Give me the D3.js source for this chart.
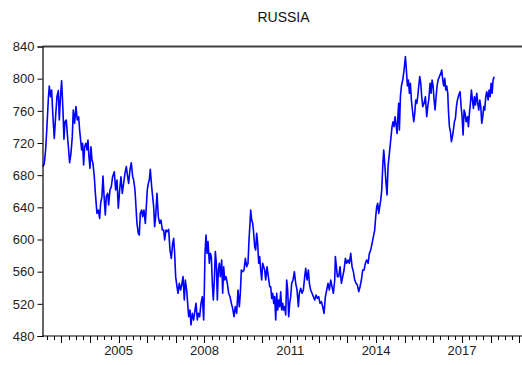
<!DOCTYPE html>
<html>
<head>
<meta charset="utf-8">
<script src="https://cdn.jsdelivr.net/npm/d3@7"></script>
<style>
  html, body { margin: 0; padding: 0; background: #fff; }
  svg { display: block; font-family: Arial, "Liberation Sans", sans-serif; }
</style>
</head>
<body>
<svg id="chart" width="522" height="365"></svg>
<script>
// Series title
const title = "RUSSIA";

// Observation dates as decimal years
const years = [
  2002.356, 2002.402, 2002.449, 2002.495, 2002.542, 2002.577, 2002.624, 2002.659, 2002.705, 2002.752,
  2002.798, 2002.845, 2002.892, 2002.927, 2002.962, 2003.008, 2003.055, 2003.090, 2003.125, 2003.171,
  2003.206, 2003.253, 2003.288, 2003.334, 2003.381, 2003.416, 2003.463, 2003.509, 2003.556, 2003.603,
  2003.638, 2003.672, 2003.707, 2003.742, 2003.777, 2003.812, 2003.859, 2003.894, 2003.929, 2003.964,
  2003.999, 2004.034, 2004.069, 2004.104, 2004.150, 2004.197, 2004.244, 2004.290, 2004.337, 2004.372,
  2004.418, 2004.453, 2004.500, 2004.535, 2004.570, 2004.617, 2004.652, 2004.698, 2004.745, 2004.791,
  2004.850, 2004.896, 2004.943, 2004.990, 2005.036, 2005.083, 2005.129, 2005.176, 2005.223, 2005.269,
  2005.316, 2005.351, 2005.397, 2005.444, 2005.491, 2005.526, 2005.572, 2005.607, 2005.642, 2005.689,
  2005.724, 2005.759, 2005.805, 2005.840, 2005.887, 2005.934, 2005.969, 2006.003, 2006.038, 2006.073,
  2006.108, 2006.155, 2006.190, 2006.225, 2006.260, 2006.295, 2006.341, 2006.388, 2006.435, 2006.481,
  2006.528, 2006.575, 2006.610, 2006.656, 2006.703, 2006.749, 2006.796, 2006.843, 2006.889, 2006.924,
  2006.959, 2006.994, 2007.041, 2007.076, 2007.122, 2007.169, 2007.216, 2007.251, 2007.297, 2007.332,
  2007.379, 2007.414, 2007.449, 2007.495, 2007.530, 2007.577, 2007.624, 2007.670, 2007.705, 2007.752,
  2007.787, 2007.833, 2007.880, 2007.927, 2007.973, 2007.996, 2008.020, 2008.055, 2008.090, 2008.125,
  2008.171, 2008.206, 2008.241, 2008.276, 2008.311, 2008.346, 2008.381, 2008.416, 2008.451, 2008.486,
  2008.521, 2008.556, 2008.603, 2008.638, 2008.673, 2008.708, 2008.754, 2008.801, 2008.847, 2008.894,
  2008.941, 2008.987, 2009.034, 2009.080, 2009.127, 2009.174, 2009.220, 2009.255, 2009.290, 2009.337,
  2009.384, 2009.430, 2009.477, 2009.523, 2009.558, 2009.593, 2009.617, 2009.652, 2009.687, 2009.722,
  2009.756, 2009.791, 2009.826, 2009.861, 2009.896, 2009.931, 2009.966, 2010.001, 2010.036, 2010.071,
  2010.106, 2010.141, 2010.188, 2010.234, 2010.281, 2010.316, 2010.351, 2010.386, 2010.421, 2010.456,
  2010.491, 2010.526, 2010.561, 2010.596, 2010.631, 2010.666, 2010.700, 2010.735, 2010.770, 2010.805,
  2010.840, 2010.875, 2010.910, 2010.945, 2010.980, 2011.015, 2011.050, 2011.097, 2011.143, 2011.190,
  2011.237, 2011.283, 2011.318, 2011.365, 2011.411, 2011.458, 2011.505, 2011.540, 2011.586, 2011.633,
  2011.668, 2011.714, 2011.761, 2011.808, 2011.854, 2011.901, 2011.948, 2011.994, 2012.041, 2012.087,
  2012.134, 2012.181, 2012.227, 2012.274, 2012.320, 2012.367, 2012.414, 2012.460, 2012.507, 2012.554,
  2012.577, 2012.612, 2012.647, 2012.693, 2012.740, 2012.787, 2012.833, 2012.880, 2012.927, 2012.973,
  2013.020, 2013.066, 2013.113, 2013.160, 2013.206, 2013.253, 2013.300, 2013.346, 2013.393, 2013.439,
  2013.486, 2013.533, 2013.579, 2013.626, 2013.672, 2013.719, 2013.766, 2013.812, 2013.859, 2013.906,
  2013.952, 2013.987, 2014.022, 2014.057, 2014.092, 2014.127, 2014.162, 2014.197, 2014.232, 2014.267,
  2014.302, 2014.348, 2014.383, 2014.418, 2014.453, 2014.488, 2014.523, 2014.558, 2014.593, 2014.628,
  2014.663, 2014.698, 2014.733, 2014.768, 2014.791, 2014.815, 2014.850, 2014.885, 2014.931, 2014.978,
  2015.024, 2015.059, 2015.094, 2015.129, 2015.164, 2015.199, 2015.234, 2015.269, 2015.316, 2015.351,
  2015.386, 2015.421, 2015.456, 2015.491, 2015.526, 2015.561, 2015.595, 2015.630, 2015.677, 2015.724,
  2015.770, 2015.805, 2015.840, 2015.887, 2015.922, 2015.957, 2015.992, 2016.027, 2016.062, 2016.097,
  2016.132, 2016.167, 2016.213, 2016.260, 2016.295, 2016.330, 2016.365, 2016.400, 2016.435, 2016.470,
  2016.505, 2016.528, 2016.563, 2016.598, 2016.633, 2016.668, 2016.703, 2016.738, 2016.773, 2016.808,
  2016.843, 2016.889, 2016.936, 2016.971, 2017.006, 2017.041, 2017.076, 2017.111, 2017.146, 2017.192,
  2017.227, 2017.262, 2017.297, 2017.332, 2017.367, 2017.402, 2017.437, 2017.472, 2017.519, 2017.554,
  2017.589, 2017.624, 2017.659, 2017.693, 2017.728, 2017.763, 2017.798, 2017.833, 2017.868, 2017.915,
  2017.950, 2017.985, 2018.020, 2018.055, 2018.090, 2018.124
];

// Index level at each date
const values = [
  690.6, 694.7, 711.3, 740.3, 773.5, 790.9, 777.6, 785.9, 752.7, 725.8,
  752.7, 777.6, 785.1, 748.6, 773.5, 797.5, 761.0, 724.6, 746.5, 748.6,
  732.0, 711.3, 695.5, 707.1, 727.9, 761.0, 744.5, 765.2, 748.6, 752.7,
  736.2, 723.7, 711.3, 719.6, 692.6, 715.4, 719.6, 711.3, 723.7, 703.0,
  688.5, 715.4, 698.9, 694.7, 678.1, 653.3, 632.5, 636.7, 626.3, 645.0,
  653.3, 679.0, 649.1, 630.5, 653.3, 657.4, 642.9, 661.6, 665.7, 678.1,
  684.3, 661.6, 674.0, 638.8, 661.6, 678.1, 657.4, 669.8, 682.3, 690.6,
  678.1, 669.8, 686.4, 695.5, 678.1, 674.0, 661.6, 640.8, 620.1, 607.7,
  605.6, 632.5, 636.7, 628.4, 636.7, 620.1, 640.8, 661.6, 669.8, 674.0,
  687.3, 665.7, 653.3, 640.8, 616.0, 628.4, 657.4, 628.4, 620.1, 624.2,
  611.8, 611.8, 599.4, 611.8, 609.7, 612.6, 586.9, 576.6, 595.2, 601.4,
  582.8, 553.8, 541.3, 533.1, 545.5, 537.2, 545.5, 553.8, 524.8, 549.6,
  537.2, 520.6, 504.0, 512.3, 493.7, 508.2, 499.9, 512.3, 520.6, 499.9,
  508.2, 504.0, 520.6, 528.9, 499.9, 537.2, 582.8, 605.6, 582.8, 597.3,
  570.4, 582.8, 578.7, 545.5, 524.8, 549.6, 584.9, 570.4, 524.8, 562.1,
  570.4, 553.8, 574.5, 533.1, 566.2, 549.6, 553.8, 545.5, 533.1, 528.9,
  520.6, 514.4, 504.0, 516.5, 508.2, 537.2, 516.5, 533.1, 562.1, 560.0,
  562.1, 576.6, 566.2, 570.4, 599.4, 620.1, 636.7, 624.2, 620.1, 607.7,
  591.1, 586.9, 607.7, 595.2, 570.4, 578.7, 562.1, 549.6, 570.4, 566.2,
  562.1, 549.6, 566.2, 553.8, 541.3, 541.3, 526.8, 533.1, 520.6, 528.9,
  499.9, 533.1, 512.3, 524.8, 516.5, 535.1, 512.3, 520.6, 512.3, 516.5,
  506.1, 549.6, 537.2, 504.0, 520.6, 528.9, 545.5, 549.6, 560.0, 545.5,
  537.2, 516.5, 533.1, 539.3, 533.1, 537.2, 553.8, 564.1, 549.6, 562.1,
  545.5, 537.2, 533.1, 528.9, 524.8, 531.0, 526.8, 528.9, 520.6, 522.7,
  516.5, 508.2, 528.9, 537.2, 545.5, 537.2, 549.6, 541.3, 533.1, 549.6,
  578.7, 566.2, 553.8, 553.8, 566.2, 545.5, 553.8, 562.1, 576.6, 570.4,
  574.5, 570.4, 582.8, 566.2, 560.0, 549.6, 545.5, 543.4, 535.1, 541.3,
  549.6, 562.1, 562.1, 570.4, 574.5, 570.4, 582.8, 586.9, 595.2, 603.5,
  611.8, 628.4, 640.8, 645.0, 632.5, 640.8, 649.1, 661.6, 690.6, 711.3,
  694.7, 669.8, 655.3, 690.6, 703.0, 715.4, 727.9, 740.3, 746.5, 740.3,
  752.7, 742.4, 732.0, 756.9, 769.3, 736.2, 777.6, 790.9, 798.3, 810.8,
  827.4, 810.8, 790.9, 798.3, 781.8, 794.2, 773.5, 761.0, 746.5, 756.9,
  773.5, 769.3, 777.6, 790.9, 802.5, 794.2, 777.6, 765.2, 769.3, 777.6,
  752.7, 765.2, 773.5, 794.2, 781.8, 798.3, 790.9, 773.5, 761.0, 777.6,
  790.9, 798.3, 802.5, 806.6, 810.8, 798.3, 790.9, 800.4, 785.9, 790.9,
  781.8, 761.0, 740.3, 734.1, 721.7, 727.9, 736.2, 746.5, 750.7, 765.2,
  773.5, 779.7, 783.8, 765.2, 752.7, 729.9, 761.0, 756.9, 746.5, 752.7,
  740.3, 756.9, 769.3, 785.9, 773.5, 763.1, 777.6, 767.2, 781.8, 769.3,
  761.0, 773.5, 765.2, 744.5, 752.7, 765.2, 761.0, 777.6, 783.8, 773.5,
  785.9, 777.6, 794.2, 781.8, 798.3, 802.5
];

// Axis settings
const yTicks = [480, 520, 560, 600, 640, 680, 720, 760, 800, 840];
const xLabelYears = [2005, 2008, 2011, 2014, 2017];

const svg = d3.select("#chart");
const W = 522;
const plotLeft = 42.5, plotTop = 46.5, plotBottom = 336;

const x = d3.scaleLinear().domain([2002.34, 2019.1]).range([plotLeft, W]);
const y = d3.scaleLinear().domain([480, 840]).range([plotBottom, plotTop]);

// Title
svg.append("text")
  .attr("x", 283.5).attr("y", 22.3)
  .attr("text-anchor", "middle")
  .attr("font-size", 14).attr("fill", "#111")
  .text(title);

// Frame top line
svg.append("line")
  .attr("x1", plotLeft).attr("x2", W)
  .attr("y1", plotTop).attr("y2", plotTop)
  .attr("stroke", "#404040").attr("stroke-width", 2);

// Series line
const series = years.map((t, i) => [t, values[i]]);
svg.append("path")
  .datum(series)
  .attr("fill", "none")
  .attr("stroke", "#0000ff")
  .attr("stroke-width", 1.6)
  .attr("stroke-linejoin", "round")
  .attr("d", d3.line().x(d => x(d[0])).y(d => y(d[1])));

// Left axis
const yAxis = d3.axisLeft(y).tickValues(yTicks).tickSize(5).tickPadding(3).tickFormat(d3.format("d"));
const gy = svg.append("g").attr("transform", `translate(${plotLeft},0)`).call(yAxis);
gy.select(".domain").attr("stroke", "#000").attr("stroke-width", 1.2);
gy.selectAll(".tick line").attr("stroke", "#000");
gy.selectAll(".tick text").attr("font-size", 13).attr("font-family", "Arial, 'Liberation Sans', sans-serif").attr("fill", "#222");

// Bottom axis: quarterly minor ticks, yearly major ticks
const quarters = d3.range(Math.ceil(x.domain()[0] * 4), Math.floor(x.domain()[1] * 4) + 1).map(q => q / 4);
const gx = svg.append("g").attr("transform", `translate(0,${plotBottom})`);
gx.append("line")
  .attr("x1", plotLeft).attr("x2", W)
  .attr("stroke", "#000").attr("stroke-width", 1.2);
gx.selectAll("line.tick")
  .data(quarters)
  .join("line")
  .attr("class", "tick")
  .attr("x1", d => Math.round(x(d)) + 0.5).attr("x2", d => Math.round(x(d)) + 0.5)
  .attr("y1", 0)
  .attr("y2", d => Number.isInteger(d) ? 7 : 4)
  .attr("stroke", "#000");
gx.selectAll("text")
  .data(xLabelYears)
  .join("text")
  .attr("x", d => x(d))
  .attr("y", 19)
  .attr("text-anchor", "middle")
  .attr("font-size", 13).attr("fill", "#222")
  .text(d => d);
</script>
</body>
</html>
